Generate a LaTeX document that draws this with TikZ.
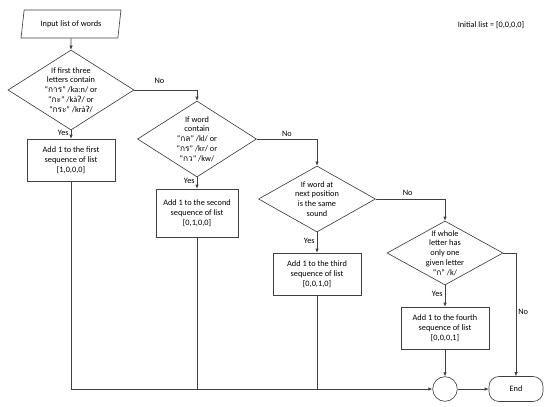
\documentclass[tikz,border=0pt]{standalone}
\usepackage{fontspec}
\setmainfont{Carlito}
\newfontfamily\thaifont[Script=Thai]{Loma}
\newfontfamily\ipafont{DejaVu Sans}
\usetikzlibrary{shapes.geometric}
\usetikzlibrary{arrows.meta}
\newcommand{\gs}{{\ipafont\char"0294}}
\newcommand{\fs}{\fontsize{8.3}{9.8}\selectfont}
\tikzset{
    line/.style={draw=black!75, line width=0.65pt},
    arrow/.style={line, -{Latex[length=4pt,width=3.5pt]}},
    io/.style={trapezium, trapezium left angle=74, trapezium right angle=106,
        trapezium stretches=true, line, minimum width=100pt, minimum height=28pt,
        inner sep=0pt, font=\fs},
    decision/.style={diamond, line, inner sep=0pt},
    dtext/.style={align=center, inner sep=0pt, font=\fs},
    process/.style={rectangle, line, align=center, inner sep=0pt,
        minimum width=88pt, minimum height=42pt, font=\fs},
    terminal/.style={rectangle, rounded corners=10pt, line, minimum width=54pt,
        minimum height=25pt, font=\fs},
    lbl/.style={font=\fs, inner sep=2pt}
}
\begin{document}
\begin{tikzpicture}[x=1pt, y=-1pt]
\useasboundingbox (0,0) rectangle (550,407);
\node[io] (input) at (71,24) {Input list of words};
\node[lbl] (init) at (491,25) {Initial list = [0,0,0,0]};

\node[decision, minimum width=126pt, minimum height=80pt] (d1) at (71,90) {};
\node[dtext] (d1t) at (d1) {If first three\\letters contain\\
    ``{\thaifont การ}'' /ka:n/ or\\``{\thaifont กะ}'' /kà\gs/ or\\``{\thaifont กระ}'' /krà\gs/};
\node[process] (b1) at (71,160) {Add 1 to the first\\sequence of list\\{[1,0,0,0]}};

\node[decision, minimum width=119pt, minimum height=76pt] (d2) at (197,139) {};
\node[dtext] (d2t) at (d2) {If word\\contain\\
    ``{\thaifont กล}'' /kl/ or\\``{\thaifont กร}'' /kr/ or\\``{\thaifont กว}'' /kw/};
\node[process, minimum width=82pt, minimum height=48pt] (b2) at (197,213) {Add 1 to the second\\sequence of list\\{[0,1,0,0]}};

\node[decision, minimum width=117pt, minimum height=66pt] (d3) at (317,199) {};
\node[dtext] (d3t) at (d3) {If word at\\next position\\is the same\\sound};
\node[process] (b3) at (317,274) {Add 1 to the third\\sequence of list\\{[0,0,1,0]}};

\node[decision, minimum width=116pt, minimum height=64pt] (d4) at (445,253) {};
\node[dtext] (d4t) at (d4) {If whole\\letter has\\only one\\given letter\\``{\thaifont ก}'' /k/};
\node[process] (b4) at (445,328) {Add 1 to the fourth\\sequence of list\\{[0,0,0,1]}};

\node[circle, line, minimum size=24.6pt, inner sep=0pt] (join) at (445,389) {};
\node[terminal] (stop) at (516,389) {End};

\draw[arrow] (input) -- (d1);
\draw[arrow] (d1) -- node[lbl, left, pos=0.35] {Yes} (b1);
\draw[arrow] (d1.east) -| node[lbl, above=4pt, pos=0.2] {No} (d2.north);
\draw[arrow] (d2) -- node[lbl, left, pos=0.35] {Yes} (b2);
\draw[arrow] (d2.east) -| node[lbl, above, pos=0.25] {No} (d3.north);
\draw[arrow] (d3) -- node[lbl, left, pos=0.4] {Yes} (b3);
\draw[arrow] (d3.east) -| node[lbl, above=1pt, pos=0.23] {No} (d4.north);
\draw[arrow] (d4) -- node[lbl, left, pos=0.4] {Yes} (b4);
\draw[arrow] (d4.east) -| node[lbl, right, pos=0.74] {No} (stop.north);
\draw[arrow] (b1.south) |- (join.west);
\draw[line] (b2.south) -- (b2.south |- join);
\draw[line] (b3.south) -- (b3.south |- join);
\draw[arrow] (b4) -- (join);
\draw[arrow] (join) -- (stop);
\end{tikzpicture}
\end{document}
